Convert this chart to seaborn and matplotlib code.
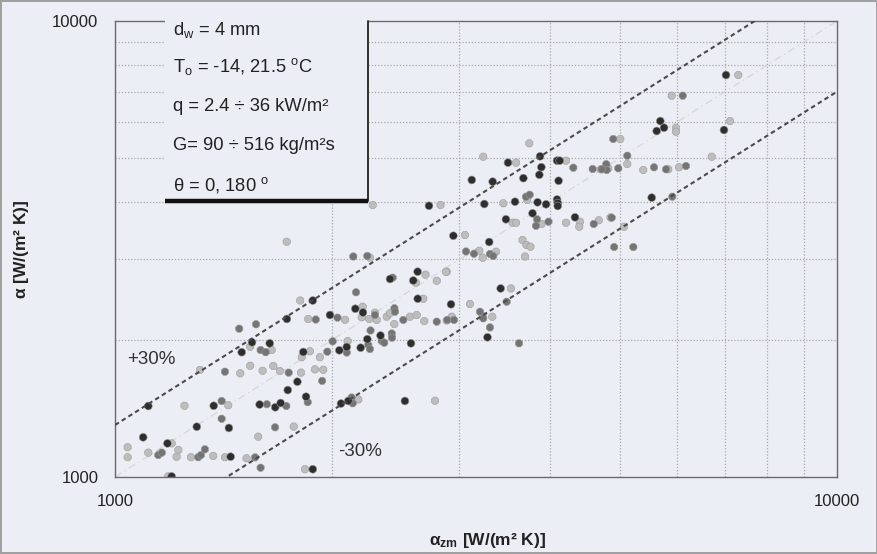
import numpy as np
import pandas as pd
import matplotlib
matplotlib.use("Agg")
import matplotlib.pyplot as plt
import seaborn as sns
from matplotlib.patches import Rectangle
from matplotlib.lines import Line2D
from matplotlib.ticker import FixedLocator, NullFormatter

# ---------------- data ----------------
x_dark = [1094, 1182, 1198, 1446, 1298, 1438, 1112, 1370, 1586, 1667, 1696, 1548, 1498, 1638,
          1730, 1735, 1789, 1839, 1823, 2045, 2094, 2189, 2236, 2332, 2570, 1879, 1985, 2152,
          2205, 2626, 2920, 2056, 2104, 2521, 1879, 2404, 2589, 2625, 2722, 2942, 3120, 3335,
          3247, 3502, 3678, 3879, 3895, 3870, 4095, 4130, 4115, 3581, 3848, 3954, 4095, 4104,
          4104, 3479, 3787, 4336, 3298, 3421, 3280, 7019, 5692, 5627, 5760, 6974, 5538]
y_dark = [1222, 1185, 1003, 1108, 1289, 1281, 1431, 1433, 1442, 1422, 1453, 1974, 1878, 1964,
          2221, 1551, 1618, 1500, 1880, 1896, 1928, 1921, 2006, 2043, 1964, 2438, 2266, 2339,
          2295, 2460, 2392, 1449, 1468, 1468, 1040, 2718, 2697, 2820, 3933, 3381, 4481, 4443,
          3969, 4890, 4522, 5050, 4780, 4600, 4940, 4940, 4463, 4015, 4003, 3963, 4060, 3989,
          3929, 3674, 3787, 3711, 3276, 2591, 2025, 7613, 6034, 5738, 5834, 5767, 4099]

x_med = [1148, 1161, 1304, 1315, 1332, 1563, 1591, 1405, 1405, 1623, 1727, 1666, 1420, 1740,
         1486, 1568, 1591, 1617, 1849, 1936, 1968, 2002, 2094, 2243, 2255, 2259, 2341, 2360,
         2417, 2419, 1897, 2033, 2157, 2291, 2438, 2442, 2508, 2790, 2886, 2948, 2127, 2134,
         2138, 2236, 2424, 4313, 4588, 4791, 4797, 4978, 4899, 3709, 3753, 3842, 3829, 3985,
         4603, 4875, 3063, 3142, 3306, 3341, 4913, 5223, 3487, 3203, 3236, 3306, 3627, 6114,
         5123, 4722, 5579, 5797, 6178, 5914]
y_med = [1117, 1131, 1105, 1117, 1150, 1104, 1048, 1342, 1468, 1444, 1431, 1285, 1702, 1694,
         2115, 2162, 1899, 1878, 1459, 1625, 1883, 1984, 1875, 1948, 1908, 2096, 1987, 1970,
         2064, 2021, 2215, 2236, 2541, 2266, 2344, 2304, 2210, 2191, 2210, 2210, 1494, 1451,
         3045, 3053, 2736, 4768, 4736, 4853, 4712, 4753, 5511, 4118, 4159, 3674, 3555, 3630,
         3588, 3705, 3123, 3088, 3084, 3053, 3194, 3194, 2423, 2304, 2228, 2128, 1964, 6858,
         5065, 4729, 4777, 4729, 4809, 4118]

x_light = [1041, 1041, 1112, 1198, 1185, 1224, 1217, 1274, 1368, 1420, 1521, 1248, 1435, 1579,
           1768, 1311, 1491, 1539, 1601, 1657, 1692, 1810, 1648, 1539, 1943, 1892, 1814, 1862,
           1922, 2100, 1805, 1852, 2083, 2203, 2196, 2250, 2291, 2304, 2379, 2404, 2437, 2562,
           2617, 2673, 2682, 2880, 2936, 2173, 2775, 1833, 1729, 2255, 2611, 2692, 2880, 2790,
           2824, 2275, 3053, 3236, 3450, 3593, 3748, 4214, 4707, 4822, 5010, 3724, 3554, 3593,
           3897, 4214, 4406, 4396, 4678, 4856, 3196, 3370, 3231, 3668, 3714, 3762, 3697, 2873,
           3535, 3102, 3231, 3331, 2927, 7299, 5903, 5984, 5984, 7109, 5123, 5391, 5839, 6042,
           6706, 5070]
y_light = [1162, 1105, 1131, 1185, 1003, 1146, 1108, 1105, 1112, 1105, 1099, 1433, 1437, 1226,
           1290, 1717, 1688, 1754, 1710, 1751, 1708, 1694, 1899, 1931, 1719, 1722, 1831, 1887,
           1831, 1987, 2438, 2221, 2212, 2363, 2240, 2221, 2293, 2210, 2247, 2286, 2165, 2247,
           2266, 2460, 2198, 2204, 2221, 1479, 1470, 1040, 3281, 3027, 2668, 2778, 2820, 2694,
           3949, 3949, 3394, 5040, 3983, 4890, 5392, 4940, 4729, 4753, 5511, 4049, 3611, 3611,
           3588, 3611, 3630, 3539, 3655, 3708, 3135, 3120, 3027, 3309, 3227, 3199, 3045, 2820,
           2591, 2395, 2257, 2247, 2247, 7613, 6858, 5834, 5718, 6034, 4858, 4712, 4729, 4777,
           5040, 3539]

axis_limits = [1000, 10000]
band_factors = [1.3, 0.7]
band_labels = ["+30%", "-30%"]
y_tick_labels = ["1000", "10000"]
x_tick_labels = ["1000", "10000"]
info_lines = [
    r"d$_\mathregular{w}$ = 4 mm",
    r"T$_\mathregular{o}$ = -14, 21.5 $^\mathregular{o}$C",
    "q = 2.4 \u00f7 36 kW/m\u00b2",
    "G= 90 \u00f7 516 kg/m\u00b2s",
    "\u03b8 = 0, 180 $^\\mathregular{o}$",
]
xlabel = r"$\mathbf{\alpha_{zm}}$ [W/(m" + "\u00b2 K)]"
ylabel = r"$\mathbf{\alpha}$ [W/(m" + "\u00b2 K)]"

# ---------------- style ----------------
sns.set_theme(style="white")
BG = "#eceef5"
plt.rcParams["font.family"] = ["Liberation Sans", "DejaVu Sans"]
plt.rcParams["mathtext.fontset"] = "custom"
plt.rcParams["mathtext.rm"] = "Liberation Sans"
plt.rcParams["mathtext.it"] = "Liberation Sans:italic"
plt.rcParams["mathtext.bf"] = "Liberation Sans:bold"
plt.rcParams["mathtext.default"] = "regular"

fig = plt.figure(figsize=(8.78, 5.54), dpi=100)
fig.patch.set_facecolor(BG)
fig.patch.set_edgecolor("#a0a0a0")
fig.patch.set_linewidth(1.5)
ax = fig.add_axes([115 / 878, 1 - 477 / 554, 722 / 878, 456 / 554])
ax.set_facecolor(BG)

df = pd.concat([
    pd.DataFrame({"x": x_light, "y": y_light, "series": "light"}),
    pd.DataFrame({"x": x_med, "y": y_med, "series": "medium"}),
    pd.DataFrame({"x": x_dark, "y": y_dark, "series": "dark"}),
], ignore_index=True)

palette = {"dark": "#2e2e2e", "medium": "#747474", "light": "#bdbdbd"}
markers = {"dark": "o", "medium": "8", "light": "8"}

ax.set_xscale("log")
ax.set_yscale("log")
ax.set_xlim(axis_limits)
ax.set_ylim(axis_limits)

minor = [k * 1000 for k in range(2, 10)]
ax.xaxis.set_major_locator(FixedLocator(axis_limits))
ax.yaxis.set_major_locator(FixedLocator(axis_limits))
ax.xaxis.set_minor_locator(FixedLocator(minor))
ax.yaxis.set_minor_locator(FixedLocator(minor))
ax.xaxis.set_minor_formatter(NullFormatter())
ax.yaxis.set_minor_formatter(NullFormatter())
ax.set_xticklabels(x_tick_labels)
ax.set_yticklabels(y_tick_labels)
ax.grid(which="minor", color="#a8a8a8", linestyle=(0, (1, 1.5)), linewidth=0.9, zorder=0)
ax.grid(which="major", visible=False)
ax.tick_params(which="both", length=0)
ax.tick_params(axis="x", pad=12, labelsize=12, labelcolor="#222222")
ax.tick_params(axis="y", pad=12, labelsize=12, labelcolor="#222222")
ax.set_axisbelow(True)

xs = np.array(axis_limits, dtype=float)
ax.plot(xs, xs, color="#d6d6d6", lw=0.9, ls=(0, (6, 3, 1, 3)), zorder=1)
for f in band_factors:
    ax.plot(xs, xs * f, color="#4a4a4a", lw=1.5, ls=(0, (2.2, 1.6)), zorder=3)

sns.scatterplot(data=df, x="x", y="y", hue="series", style="series", palette=palette,
                markers=markers, s=32, linewidth=0.4, edgecolor="#9a9a9a", legend=False,
                ax=ax, zorder=2)

ax.set_xlabel(xlabel, fontsize=12.5, fontweight="bold", color="#222222")
ax.set_ylabel(ylabel, fontsize=12.5, fontweight="bold", color="#222222")
ax.xaxis.label.set_va("center")
ax.yaxis.label.set_va("center")
ax.xaxis.set_label_coords((488 - 115) / 722, (477 - 540) / 456)
ax.yaxis.set_label_coords((22 - 115) / 722, 0.5)

for s in ax.spines.values():
    s.set_color("#6a6a6a")
    s.set_linewidth(1.0)

ax.text(0.017, 0.257, band_labels[0], transform=ax.transAxes, fontsize=13.5,
        color="#333333", va="center", ha="left", zorder=5)
ax.text(0.309, 0.055, band_labels[1], transform=ax.transAxes, fontsize=13.5,
        color="#333333", va="center", ha="left", zorder=5)

# information box
bx0, bx1 = (165 - 115) / 722, (368 - 115) / 722
by0, by1 = (477 - 201) / 456, 1.0 + 2 / 456
ax.add_patch(Rectangle((bx0, by0), bx1 - bx0, by1 - by0, transform=ax.transAxes,
                       facecolor=BG, edgecolor="none", zorder=6, clip_on=False))
ax.add_line(Line2D([bx1, bx1], [by0, 1.0], transform=ax.transAxes, color="#222222",
                   lw=1.3, zorder=7, clip_on=False))
ax.add_line(Line2D([bx0, bx1], [by0, by0], transform=ax.transAxes, color="#111111",
                   lw=3.2, zorder=7, clip_on=False, solid_capstyle="butt"))
ys = [0.980, 0.900, 0.812, 0.728, 0.640]
for t, yy in zip(info_lines, ys):
    ax.text(0.080, yy, t, transform=ax.transAxes, fontsize=13.2, color="#222222",
            va="center", ha="left", zorder=8)

fig.savefig("out.png", dpi=100, facecolor=fig.get_facecolor(), edgecolor=fig.get_edgecolor())
